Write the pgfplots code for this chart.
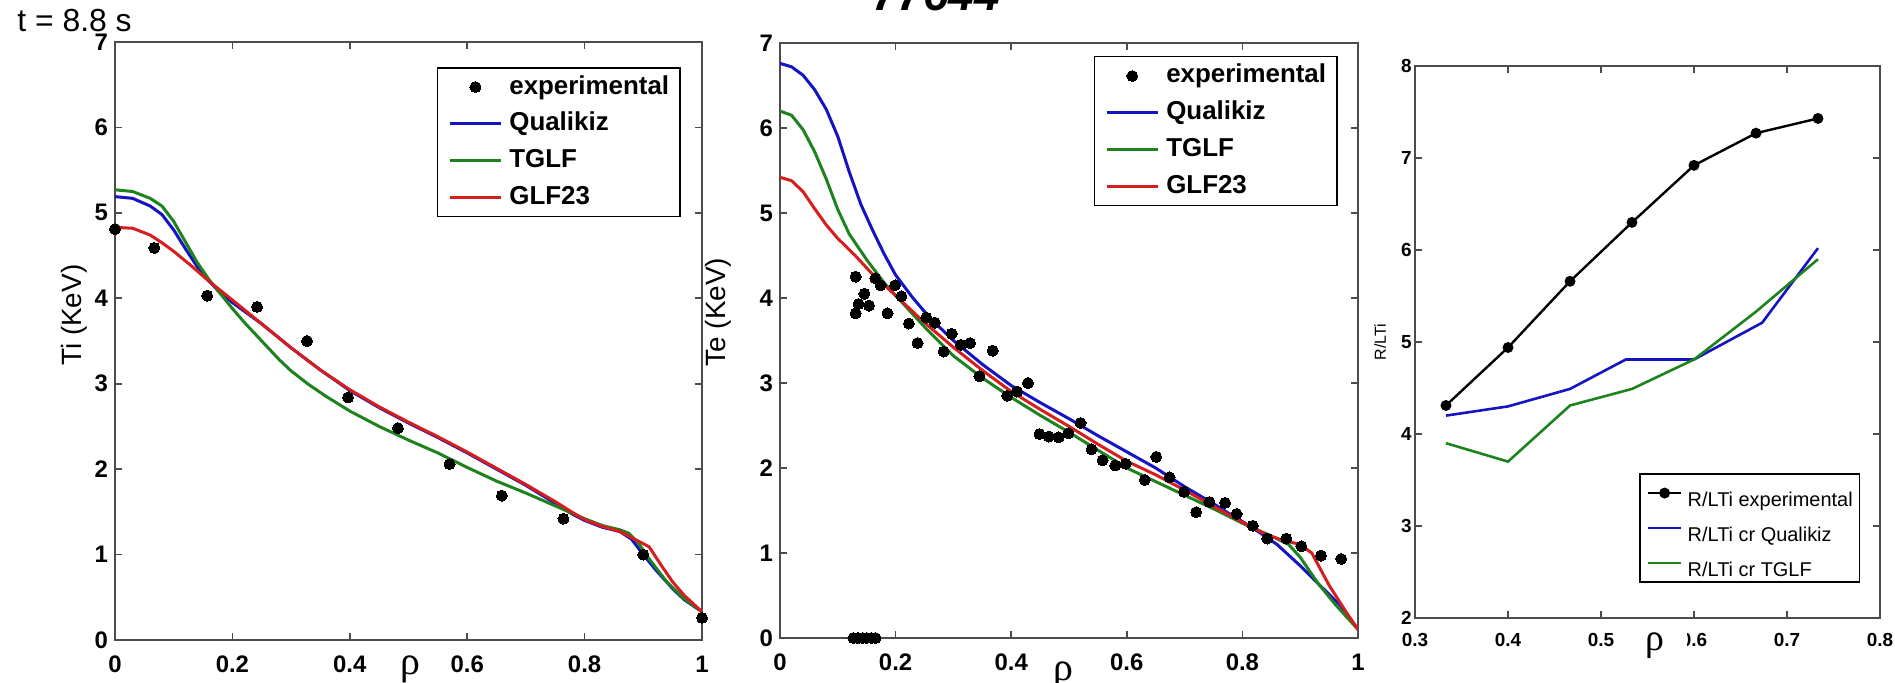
\documentclass[border=0pt]{standalone}
\usepackage{fontspec}
\setmainfont{Liberation Sans}
\newfontfamily\greekserif{Liberation Serif}
\usepackage{pgfplots}
\pgfplotsset{compat=1.18}

\definecolor{qblue}{RGB}{20,20,195}
\definecolor{tgreen}{RGB}{30,130,30}
\definecolor{gred}{RGB}{215,30,30}

\pgfplotsset{
  mat/.style={
    scale only axis,
    axis line style={black!70, line width=0.9bp},
    every tick/.style={black!70, line width=0.8bp},
    tick align=inside,
    major tick length=3.6bp,
    /pgf/number format/assume math mode=true,
    legend cell align=left,
  },
  bigtick/.style={
    tick label style={font=\bfseries\fontsize{12}{12}\selectfont, black},
    xticklabel style={yshift=-4.5bp},
    ylabel style={font=\fontsize{14}{14}\selectfont, rotate=0, anchor=center},
    xlabel style={font=\greekserif\fontsize{20}{20}\selectfont, anchor=center},
    legend image code/.code={\draw[mark repeat=2,mark phase=2,##1] plot coordinates {(0bp,0bp) (12.75bp,0bp) (25.5bp,0bp)};},
    legend style={
      draw=black, line width=0.7bp, fill=white,
      font=\bfseries\fontsize{13}{13}\selectfont,
      inner xsep=5.5bp, inner ysep=3.6bp,
      row sep=6.4bp, column sep=3.5bp,
      nodes={inner sep=0pt, text height=9.5bp, text depth=2.5bp},
    },
  },
  curve/.style={line width=1.5bp},
  expdots/.style={only marks, mark=*, mark size=2.75bp, mark options={fill=black, draw=black, line width=0pt}},
}

\begin{document}
\begin{tikzpicture}

% ---------------- left: Ti ----------------
\begin{axis}[mat, bigtick,
  at={(57.5bp,-21bp)}, anchor=north west, width=293.5bp, height=299bp,
  xmin=0, xmax=1, ymin=0, ymax=7,
  xtick={0,0.2,0.4,0.6,0.8,1}, ytick={0,1,2,3,4,5,6,7},
  xlabel={ρ}, xlabel style={at={(axis description cs:0.504,-0.0485)}},
  ylabel={Ti (KeV)}, ylabel style={at={(axis description cs:-0.0698,0.543)}},
  legend style={at={(0.964,0.958)}, anchor=north east},
]
\addplot[expdots] coordinates {
(0,4.81) (0.067,4.59) (0.157,4.03) (0.242,3.90) (0.327,3.50) (0.397,2.84)
(0.482,2.48) (0.570,2.06) (0.659,1.69) (0.764,1.42) (0.900,1.00) (1.0,0.26)};
\addlegendentry{experimental}
\addplot[qblue, curve] coordinates {
(0,5.19) (0.03,5.17) (0.06,5.08) (0.08,4.98) (0.10,4.80) (0.12,4.58) (0.14,4.37)
(0.16,4.20) (0.18,4.06) (0.20,3.95) (0.25,3.70) (0.30,3.42) (0.35,3.16) (0.40,2.92)
(0.45,2.72) (0.50,2.54) (0.55,2.37) (0.60,2.19) (0.65,2.00) (0.70,1.81) (0.75,1.60)
(0.78,1.47) (0.80,1.40) (0.83,1.32) (0.86,1.27) (0.88,1.18) (0.90,1.00) (0.92,0.83)
(0.95,0.60) (0.97,0.47) (1.0,0.33)};
\addlegendentry{Qualikiz}
\addplot[tgreen, curve] coordinates {
(0,5.27) (0.03,5.25) (0.06,5.17) (0.08,5.08) (0.10,4.90) (0.12,4.66) (0.14,4.42)
(0.16,4.22) (0.18,4.05) (0.20,3.88) (0.22,3.72) (0.25,3.50) (0.28,3.28) (0.30,3.15)
(0.33,2.99) (0.36,2.85) (0.40,2.68) (0.45,2.50) (0.50,2.34) (0.55,2.19) (0.60,2.02)
(0.65,1.86) (0.70,1.72) (0.75,1.57) (0.78,1.48) (0.80,1.42) (0.83,1.34) (0.86,1.29)
(0.875,1.25) (0.89,1.15) (0.91,0.95) (0.94,0.68) (0.97,0.48) (1.0,0.33)};
\addlegendentry{TGLF}
\addplot[gred, curve] coordinates {
(0,4.83) (0.03,4.82) (0.06,4.74) (0.08,4.65) (0.10,4.55) (0.13,4.38) (0.16,4.20)
(0.20,3.98) (0.25,3.70) (0.30,3.42) (0.35,3.16) (0.40,2.93) (0.45,2.73) (0.50,2.55)
(0.55,2.38) (0.60,2.20) (0.65,2.01) (0.70,1.82) (0.75,1.62) (0.78,1.49) (0.80,1.41)
(0.83,1.33) (0.86,1.27) (0.88,1.20) (0.91,1.09) (0.93,0.88) (0.95,0.68) (0.97,0.52)
(1.0,0.33)};
\addlegendentry{GLF23}
\end{axis}

% ---------------- middle: Te ----------------
\begin{axis}[mat, bigtick,
  at={(390bp,-21.5bp)}, anchor=north west, width=289bp, height=297.5bp,
  xmin=0, xmax=1, ymin=0, ymax=7,
  xtick={0,0.2,0.4,0.6,0.8,1}, ytick={0,1,2,3,4,5,6,7},
  xlabel={ρ}, xlabel style={at={(axis description cs:0.491,-0.062)}},
  ylabel={Te (KeV)}, ylabel style={at={(axis description cs:-0.107,0.548)}},
  legend style={at={(0.965,0.978)}, anchor=north east},
]
\addplot[expdots] coordinates {
(0.131,4.25) (0.131,3.82) (0.136,3.93) (0.146,4.05) (0.154,3.91) (0.165,4.23)
(0.174,4.15) (0.186,3.82) (0.199,4.15) (0.210,4.02) (0.223,3.70) (0.238,3.47)
(0.253,3.77) (0.268,3.71) (0.283,3.37) (0.297,3.58) (0.313,3.45) (0.329,3.47)
(0.345,3.08) (0.368,3.38) (0.393,2.85) (0.410,2.90) (0.429,3.00) (0.449,2.40)
(0.465,2.37) (0.482,2.36) (0.499,2.41) (0.520,2.53) (0.539,2.22) (0.558,2.09)
(0.580,2.03) (0.598,2.05) (0.631,1.86) (0.651,2.13) (0.674,1.89) (0.699,1.72)
(0.720,1.48) (0.743,1.60) (0.770,1.59) (0.790,1.46) (0.818,1.32) (0.843,1.17)
(0.876,1.17) (0.902,1.08) (0.936,0.97) (0.971,0.93)
(0.127,0) (0.135,0) (0.143,0) (0.150,0) (0.158,0) (0.165,0)};
\addlegendentry{experimental}
\addplot[qblue, curve] coordinates {
(0,6.76) (0.02,6.72) (0.04,6.62) (0.06,6.45) (0.08,6.22) (0.10,5.90) (0.12,5.48)
(0.14,5.10) (0.16,4.80) (0.18,4.52) (0.20,4.27) (0.23,4.00) (0.26,3.76) (0.30,3.50)
(0.35,3.22) (0.40,2.97) (0.45,2.77) (0.50,2.58) (0.55,2.38) (0.60,2.19) (0.65,2.00)
(0.70,1.78) (0.75,1.58) (0.78,1.45) (0.80,1.37) (0.83,1.24) (0.86,1.10) (0.90,0.85)
(0.94,0.58) (0.97,0.38) (1.0,0.10)};
\addlegendentry{Qualikiz}
\addplot[tgreen, curve] coordinates {
(0,6.20) (0.02,6.15) (0.04,5.98) (0.06,5.72) (0.08,5.40) (0.10,5.04) (0.12,4.75)
(0.15,4.45) (0.18,4.18) (0.20,4.03) (0.25,3.66) (0.30,3.32) (0.35,3.06) (0.40,2.83)
(0.45,2.62) (0.50,2.42) (0.55,2.21) (0.60,2.00) (0.65,1.84) (0.70,1.68) (0.75,1.52)
(0.80,1.35) (0.85,1.20) (0.88,1.10) (0.90,0.95) (0.93,0.65) (0.96,0.40) (1.0,0.10)};
\addlegendentry{TGLF}
\addplot[gred, curve] coordinates {
(0,5.42) (0.02,5.38) (0.04,5.25) (0.06,5.05) (0.08,4.86) (0.10,4.70) (0.13,4.50)
(0.16,4.28) (0.20,4.03) (0.25,3.71) (0.30,3.42) (0.35,3.15) (0.40,2.90) (0.45,2.69)
(0.50,2.49) (0.55,2.28) (0.60,2.08) (0.65,1.92) (0.70,1.74) (0.75,1.55) (0.80,1.36)
(0.84,1.22) (0.87,1.15) (0.90,1.10) (0.92,1.00) (0.95,0.62) (0.98,0.30) (1.0,0.10)};
\addlegendentry{GLF23}
\end{axis}

% ---------------- right: R/LTi ----------------
\begin{axis}[mat,
  at={(707.5bp,-33bp)}, anchor=north west, width=232.5bp, height=276bp,
  xmin=0.3, xmax=0.8, ymin=2, ymax=8,
  xtick={0.3,0.4,0.5,0.6,0.7,0.8}, ytick={2,3,4,5,6,7,8},
  tick label style={font=\bfseries\fontsize{9.5}{9.5}\selectfont, black},
  xticklabel style={yshift=-4bp},
  yticklabel style={xshift=1.8bp},
  xlabel={ρ}, xlabel style={font=\greekserif\fontsize{19}{19}\selectfont, fill=white, inner xsep=11.5bp, inner ysep=1bp, anchor=center, at={(axis description cs:0.516,-0.0507)}},
  ylabel={R/LTi}, ylabel style={font=\fontsize{8}{8}\selectfont, rotate=0, at={(axis description cs:-0.075,0.50)}, anchor=center},
  legend image code/.code={\draw[mark repeat=2,mark phase=2,#1] plot coordinates {(0bp,0bp) (8.4bp,0bp) (16.8bp,0bp)};},
  legend style={at={(0.957,0.262)}, anchor=north east,
    draw=black, line width=0.7bp, fill=white,
    font=\fontsize{10}{10}\selectfont,
    inner xsep=3.3bp, inner ysep=2.25bp,
    row sep=3bp, column sep=2.5bp,
    nodes={inner sep=0pt, text height=14bp, text depth=0.5bp}},
]
\addplot[black, line width=1.2bp, mark=*, mark size=2.1bp, mark options={fill=black}] coordinates {
(0.3333,4.31) (0.4,4.94) (0.4667,5.66) (0.5333,6.30) (0.6,6.92) (0.6667,7.27) (0.7333,7.43)};
\addlegendentry{R/LTi experimental}
\addplot[qblue, line width=1.3bp] coordinates {
(0.3333,4.20) (0.4,4.30) (0.4667,4.49) (0.5267,4.81) (0.6,4.81) (0.6733,5.21) (0.7333,6.02)};
\addlegendentry{R/LTi cr Qualikiz}
\addplot[tgreen, line width=1.3bp] coordinates {
(0.3333,3.90) (0.4,3.70) (0.4667,4.31) (0.5333,4.49) (0.6,4.81) (0.6667,5.33) (0.7333,5.90)};
\addlegendentry{R/LTi cr TGLF}
\end{axis}

% ---------------- texts ----------------
\node[anchor=base west, inner sep=0pt, font=\fontsize{16}{16}\selectfont] at (8.5bp,-15.6bp) {t = 8.8 s};
\node[anchor=base, inner sep=0pt, font=\bfseries\itshape\fontsize{23}{23}\selectfont] at (468bp,-5bp) {77644};

\pgfresetboundingbox
\path[use as bounding box] (0bp,0bp) rectangle (947.5bp,-341.5bp);
\end{tikzpicture}
\end{document}
